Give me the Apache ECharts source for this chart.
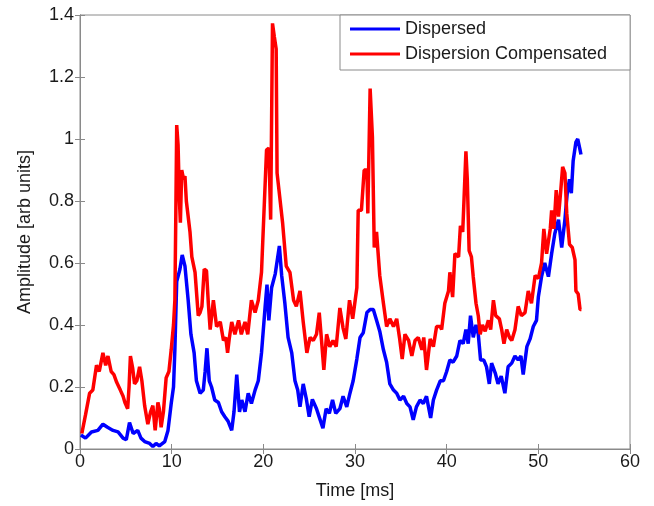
<!DOCTYPE html>
<html>
<head>
<meta charset="utf-8">
<script src="https://cdn.jsdelivr.net/npm/echarts@6/dist/echarts.min.js"></script>
<style>html,body{margin:0;padding:0;background:#fff;}#c{width:654px;height:506px;}</style>
</head>
<body>
<div id="c"></div>
<script>
const seriesNames = ["Dispersed", "Dispersion Compensated"];
const xTicks = [0, 10, 20, 30, 40, 50, 60];
const yTicks = [0, 0.2, 0.4, 0.6, 0.8, 1, 1.2, 1.4];

const dispersedT = [0.1,0.6,1.25,1.95,2.5,3.0,3.6,4.15,4.7,5.05,5.4,5.8,6.3,6.65,7.05,7.6,7.95,8.3,8.65,9.25,9.6,9.95,10.2,10.35,10.55,10.9,11.15,11.45,11.8,12.1,12.45,12.7,13.1,13.45,13.65,13.85,14.1,14.35,14.7,15.1,15.45,15.8,16.15,16.55,16.8,17.1,17.4,17.65,18.0,18.35,18.7,19.1,19.45,19.8,20.2,20.4,20.6,20.9,21.3,21.5,21.75,22.0,22.35,22.7,23.1,23.45,23.75,24.0,24.35,24.7,25.0,25.35,25.8,26.2,26.5,26.85,27.2,27.55,27.9,28.35,28.7,29.1,29.45,29.8,30.2,30.55,30.9,31.3,31.65,32.0,32.35,32.7,33.1,33.45,33.8,34.2,34.55,34.9,35.3,35.65,36.0,36.35,36.7,37.1,37.45,37.8,38.25,38.55,38.9,39.3,39.65,40.0,40.35,40.7,41.1,41.45,41.8,42.1,42.35,42.6,42.9,43.2,43.45,43.7,44.05,44.35,44.65,44.9,45.3,45.6,45.95,46.35,46.7,47.1,47.45,47.8,48.1,48.35,48.75,49.1,49.45,49.8,50.0,50.35,50.7,51.1,51.45,51.8,52.2,52.55,52.9,53.15,53.4,53.6,53.8,54.1,54.3,54.55,54.65];
const dispersedV = [0.045,0.035,0.055,0.06,0.08,0.07,0.06,0.055,0.035,0.03,0.085,0.05,0.06,0.035,0.024,0.018,0.008,0.018,0.01,0.024,0.06,0.147,0.2,0.32,0.54,0.58,0.626,0.59,0.48,0.37,0.31,0.22,0.18,0.19,0.25,0.325,0.22,0.2,0.158,0.15,0.12,0.104,0.09,0.06,0.12,0.24,0.12,0.158,0.12,0.18,0.147,0.19,0.22,0.31,0.46,0.53,0.415,0.52,0.565,0.57,0.655,0.56,0.47,0.36,0.31,0.22,0.19,0.136,0.21,0.16,0.104,0.16,0.13,0.094,0.067,0.13,0.115,0.158,0.115,0.13,0.17,0.136,0.18,0.22,0.29,0.36,0.375,0.44,0.45,0.45,0.415,0.38,0.32,0.28,0.21,0.19,0.18,0.158,0.17,0.147,0.136,0.094,0.136,0.158,0.147,0.17,0.1,0.158,0.19,0.22,0.22,0.25,0.287,0.28,0.3,0.35,0.34,0.385,0.34,0.43,0.36,0.4,0.37,0.287,0.287,0.265,0.21,0.277,0.245,0.21,0.235,0.18,0.265,0.277,0.3,0.287,0.3,0.24,0.33,0.355,0.395,0.415,0.49,0.556,0.6,0.556,0.63,0.695,0.74,0.65,0.74,0.825,0.87,0.825,0.93,0.99,1.0,0.965,0.95];

const compT = [0.2,0.6,1.05,1.4,1.8,2.1,2.5,2.8,3.05,3.4,3.7,4.0,4.4,4.7,4.9,5.2,5.35,5.5,5.75,5.95,6.2,6.5,6.75,7.05,7.4,7.7,7.95,8.2,8.5,8.65,8.85,9.1,9.4,9.7,9.95,10.2,10.35,10.45,10.55,10.7,10.85,10.95,11.1,11.3,11.45,11.6,11.8,12.0,12.2,12.55,12.9,13.1,13.3,13.55,13.8,14.0,14.2,14.55,14.9,15.3,15.65,15.9,16.1,16.3,16.55,16.9,17.3,17.6,18.0,18.3,18.7,19.1,19.45,19.8,20.05,20.35,20.6,20.8,21.0,21.2,21.4,21.5,21.8,22.1,22.5,22.9,23.3,23.6,24.0,24.35,24.75,25.1,25.45,25.8,26.1,26.35,26.6,26.9,27.25,27.6,27.95,28.35,28.7,29.0,29.4,29.75,30.2,30.35,30.7,31.0,31.3,31.4,31.65,31.9,32.1,32.35,32.7,33.1,33.45,33.8,34.2,34.55,34.85,35.15,35.45,35.85,36.2,36.55,36.9,37.3,37.5,37.8,38.2,38.55,38.9,39.3,39.45,39.8,40.2,40.35,40.65,40.9,41.3,41.5,41.75,41.9,42.1,42.25,42.45,42.7,42.9,43.2,43.45,43.65,43.9,44.2,44.55,44.8,45.1,45.35,45.75,46.0,46.25,46.55,46.85,47.1,47.45,47.8,48.15,48.55,48.9,49.25,49.65,50.0,50.35,50.6,50.9,51.3,51.45,51.7,51.95,52.2,52.45,52.65,52.9,53.1,53.4,53.7,54.0,54.1,54.35,54.55,54.7];
const compV = [0.05,0.11,0.18,0.19,0.27,0.25,0.31,0.27,0.3,0.25,0.24,0.215,0.19,0.17,0.15,0.13,0.2,0.3,0.26,0.21,0.22,0.265,0.22,0.14,0.08,0.12,0.14,0.06,0.15,0.13,0.07,0.12,0.23,0.25,0.32,0.4,0.48,0.75,1.045,0.98,0.8,0.73,0.9,0.87,0.88,0.8,0.75,0.7,0.62,0.57,0.43,0.44,0.46,0.58,0.575,0.47,0.385,0.48,0.395,0.41,0.35,0.36,0.31,0.36,0.41,0.37,0.415,0.37,0.41,0.37,0.48,0.44,0.48,0.57,0.75,0.965,0.97,0.74,1.373,1.33,1.29,0.89,0.81,0.73,0.59,0.57,0.48,0.46,0.51,0.41,0.31,0.36,0.35,0.37,0.44,0.35,0.255,0.37,0.33,0.35,0.33,0.455,0.39,0.355,0.48,0.42,0.52,0.77,0.77,0.9,0.9,0.76,1.163,1.007,0.65,0.7,0.56,0.47,0.395,0.42,0.395,0.42,0.36,0.29,0.37,0.35,0.3,0.35,0.36,0.32,0.36,0.255,0.355,0.33,0.395,0.395,0.385,0.47,0.51,0.57,0.49,0.63,0.62,0.72,0.7,0.81,0.96,0.87,0.64,0.62,0.555,0.47,0.43,0.37,0.4,0.38,0.415,0.385,0.48,0.43,0.42,0.385,0.34,0.385,0.36,0.35,0.385,0.46,0.43,0.44,0.51,0.47,0.56,0.55,0.6,0.71,0.63,0.71,0.77,0.71,0.835,0.75,0.835,0.91,0.89,0.76,0.66,0.65,0.61,0.51,0.5,0.45,0.45];

const pair = (ts, vs) => ts.map((t, i) => [t, vs[i]]);
const FONT = 'Liberation Sans, Arial, sans-serif';
const AX = '#8a8a8a';
const labelStyle = { color: '#1a1a1a', fontSize: 18, fontFamily: FONT };
const fmtY = v => String(Number(v.toFixed(1)));

const chart = echarts.init(document.getElementById('c'), null, { renderer: 'canvas' });
chart.setOption({
  animation: false,
  backgroundColor: '#fff',
  grid: { left: 80, right: 24, top: 15, bottom: 57, show: true, borderColor: AX, borderWidth: 1, backgroundColor: '#fff' },
  legend: {
    data: seriesNames,
    orient: 'vertical',
    left: 340, top: 15,
    padding: [5, 23, 7, 10],
    itemGap: 7,
    itemWidth: 50, itemHeight: 3,
    icon: 'rect',
    backgroundColor: '#fff',
    borderColor: AX, borderWidth: 1, borderRadius: 0,
    textStyle: { color: '#1a1a1a', fontSize: 18, fontFamily: FONT }
  },
  xAxis: [
    {
      type: 'value', min: xTicks[0], max: xTicks[xTicks.length - 1], interval: 10,
      name: 'Time [ms]', nameLocation: 'middle', nameGap: 33,
      nameTextStyle: labelStyle,
      axisLine: { show: true, lineStyle: { color: AX } },
      axisTick: { show: true, inside: true, length: 5, lineStyle: { color: AX } },
      axisLabel: Object.assign({ margin: 4 }, labelStyle),
      splitLine: { show: false }
    },
    {
      type: 'value', position: 'top', min: 0, max: 60, interval: 10,
      axisLine: { show: true, lineStyle: { color: AX } },
      axisTick: { show: true, inside: true, length: 5, lineStyle: { color: AX } },
      axisLabel: { show: false }, splitLine: { show: false }
    }
  ],
  yAxis: [
    {
      type: 'value', min: yTicks[0], max: yTicks[yTicks.length - 1], interval: 0.2,
      name: 'Amplitude [arb units]', nameLocation: 'middle', nameGap: 46,
      nameTextStyle: labelStyle,
      axisLine: { show: true, lineStyle: { color: AX } },
      axisTick: { show: true, inside: true, length: 5, lineStyle: { color: AX } },
      axisLabel: Object.assign({ margin: 6, formatter: fmtY }, labelStyle),
      splitLine: { show: false }
    },
    {
      type: 'value', position: 'right', min: 0, max: 1.4, interval: 0.2,
      axisLine: { show: true, lineStyle: { color: AX } },
      axisTick: { show: true, inside: true, length: 5, lineStyle: { color: AX } },
      axisLabel: { show: false }, splitLine: { show: false }
    }
  ],
  series: [
    {
      name: seriesNames[0], type: 'line', data: pair(dispersedT, dispersedV),
      showSymbol: false, symbol: 'none', color: '#0000ff',
      lineStyle: { color: '#0000ff', width: 3.5 }
    },
    {
      name: seriesNames[1], type: 'line', data: pair(compT, compV),
      showSymbol: false, symbol: 'none', color: '#ff0000',
      lineStyle: { color: '#ff0000', width: 3.5 }
    }
  ]
});
</script>
</body>
</html>
